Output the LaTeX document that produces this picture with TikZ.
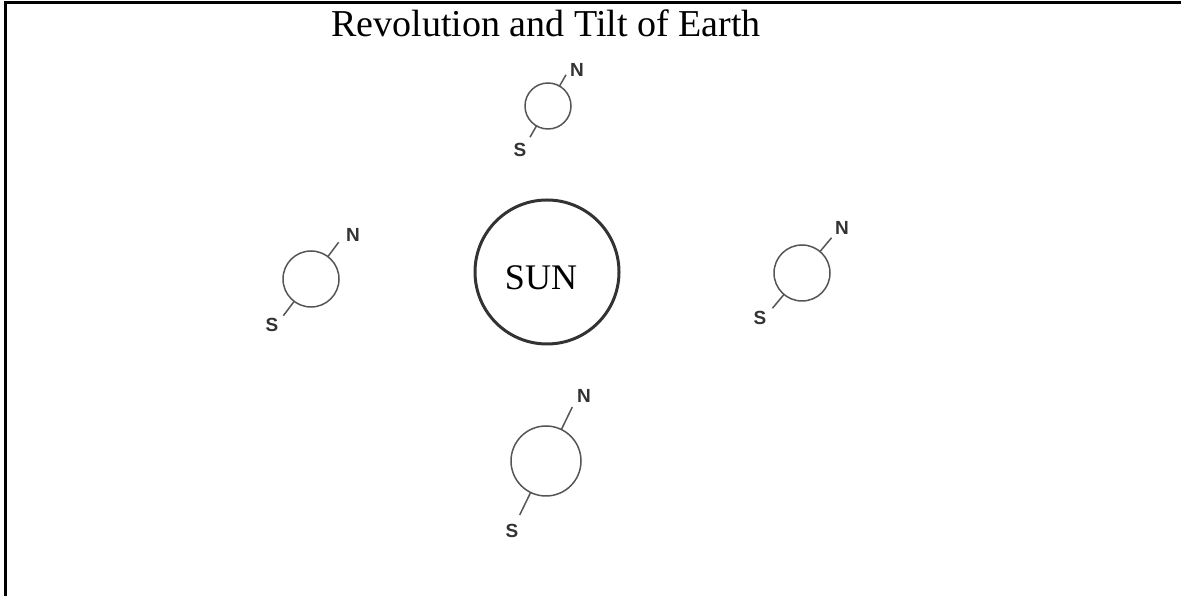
\documentclass[tikz,border=0pt]{standalone}
\usepackage{fontspec}
\setmainfont{Liberation Serif}
\newfontfamily\lsans{Liberation Sans}
\usetikzlibrary{calc}
\definecolor{earthline}{HTML}{555555}
\definecolor{sunline}{HTML}{333333}
\definecolor{poletext}{HTML}{333333}
\tikzset{
  earthbody/.style={circle, draw=earthline, line width=1.5pt, inner sep=0pt, outer sep=0pt, minimum size=#1},
  sunbody/.style={circle, draw=sunline, line width=3pt, inner sep=0pt, outer sep=0pt, minimum size=144pt},
  axisline/.style={draw=earthline, line width=1.5pt},
  polelabel/.style={font=\lsans\bfseries\fontsize{19}{19}\selectfont, text=poletext, inner sep=0pt},
  frameline/.style={line width=3pt, black},
}
% #1 name, #2 x, #3 y, #4 radius, #5 angle, #6 axis length from centre, #7 N pos, #8 S pos
\newcommand{\drawearth}[8]{%
  \node[earthbody=2*#4 pt] (#1) at (#2,#3) {};
  \coordinate (#1N) at ($(#1.center)+(#5:#6)$);
  \coordinate (#1S) at ($(#1.center)+(#5+180:#6)$);
  \draw[axisline] (#1.#5) -- (#1N);
  \draw[axisline] (#1.#5+180) -- (#1S);
  \node[polelabel] (#1Nlabel) at #7 {N};
  \node[polelabel] (#1Slabel) at #8 {S};
}
\begin{document}
\begin{tikzpicture}[x=1pt,y=1pt]
\useasboundingbox (0,0) rectangle (1181,596);
\coordinate (fbl) at (5,0);
\coordinate (ftl) at (5,593.5);
\coordinate (ftr) at (1181,593.5);
\draw[frameline] (fbl) -- (ftl) -- (ftr);
\node[font=\fontsize{38}{38}\selectfont, inner sep=0pt, anchor=base] (title) at (546,559) {Revolution and Tilt of Earth};
\node[sunbody] (sun) at (547,324) {};
\node[font=\fontsize{36}{36}\selectfont, inner sep=0pt] (sunlabel) at (541,318) {SUN};
\drawearth{top}{548}{490}{23}{60}{36}{(577,526)}{(520,446)}
\drawearth{left}{311}{317}{28}{53}{46}{(353,361)}{(272,271)}
\drawearth{right}{802}{323}{28}{50}{46}{(842,368)}{(760,278)}
\drawearth{bottom}{546}{135}{35}{64}{60}{(584,200)}{(512,65)}
\end{tikzpicture}
\end{document}
